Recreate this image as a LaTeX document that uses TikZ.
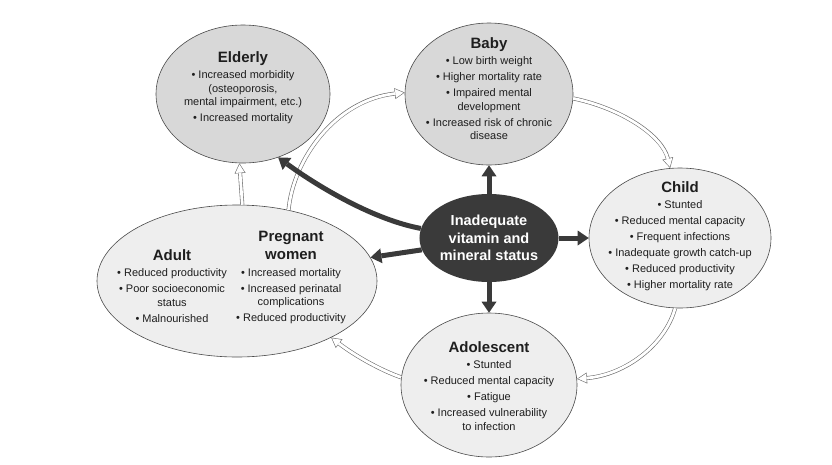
\documentclass[tikz,border=0pt]{standalone}
\usepackage{fontspec}
\setmainfont{Liberation Sans}
\usetikzlibrary{shapes.geometric,arrows.meta}
\definecolor{fillA}{HTML}{D8D8D8}
\definecolor{fillB}{HTML}{EEEEEE}
\definecolor{edgec}{HTML}{4A4A4A}
\definecolor{darkc}{HTML}{3A3A3A}
\definecolor{txtc}{HTML}{1E1E1E}
\definecolor{hollowc}{HTML}{6E6E6E}
\newcommand\bodyfont{\fontsize{11}{13.5}\selectfont}
\newcommand\ttl[1]{{\fontsize{15}{17}\selectfont\bfseries #1}}
\newcommand\hollowpath[1]{\draw[hout] #1; \draw[hin] #1;}
\begin{document}
\begin{tikzpicture}[x=1pt,y=-1pt,
 ell/.style={ellipse, draw=edgec, line width=0.6pt, inner sep=0pt},
 lbl/.style={font=\bodyfont, text=txtc, align=center, inner sep=0pt, anchor=north},
 darrow/.style={draw=darkc, line width=5pt, -{Triangle[length=11pt,width=15pt,line width=0pt]}},
 hout/.style={draw=hollowc, line width=4pt, -{Triangle[length=10pt,width=11pt,line width=0pt]}},
 hin/.style={draw=white, line width=2.8pt, -{Triangle[length=8.15pt,width=9pt,line width=0pt]}, shorten >=1.25pt}]
\useasboundingbox (0,0) rectangle (832,464);
% ellipses
\node[ell, fill=fillA, minimum width=174pt, minimum height=138pt] (eld) at (243,94) {};
\node[ell, fill=fillA, minimum width=168pt, minimum height=142pt] (baby) at (489,94) {};
\node[ell, fill=fillB, minimum width=182pt, minimum height=140pt] (child) at (680,238) {};
\node[ell, fill=fillB, minimum width=176pt, minimum height=144pt] (ado) at (489,385) {};
\node[ell, fill=fillB, minimum width=280pt, minimum height=152pt] (adult) at (237,281) {};
\node[ell, draw=none, fill=darkc, minimum width=136pt, minimum height=88pt, text=white,
      font=\fontsize{14.5}{17.5}\selectfont\bfseries, align=center] (c) at (489,238)
      {Inadequate\\vitamin and\\mineral status};
% texts
\node[lbl] (teld) at (243,51) {\ttl{Elderly}\\[3pt]
 • Increased morbidity\\ (osteoporosis,\\ mental impairment, etc.)\\[2.5pt]
 • Increased mortality};
\node[lbl] (tbaby) at (489,37) {\ttl{Baby}\\[3pt]
 • Low birth weight\\[2.5pt]
 • Higher mortality rate\\[2.5pt]
 • Impaired mental\\ development\\[2.5pt]
 • Increased risk of chronic\\ disease};
\node[lbl] (tchild) at (680,181) {\ttl{Child}\\[3pt]
 • Stunted\\[2.5pt]
 • Reduced mental capacity\\[2.5pt]
 • Frequent infections\\[2.5pt]
 • Inadequate growth catch-up\\[2.5pt]
 • Reduced productivity\\[2.5pt]
 • Higher mortality rate};
\node[lbl] (tado) at (489,341) {\ttl{Adolescent}\\[3pt]
 • Stunted\\[2.5pt]
 • Reduced mental capacity\\[2.5pt]
 • Fatigue\\[2.5pt]
 • Increased vulnerability\\ to infection};
\node[lbl] (tadult) at (172,249) {\ttl{Adult}\\[3pt]
 • Reduced productivity\\[2.5pt]
 • Poor socioeconomic\\ status\\[2.5pt]
 • Malnourished};
\node[lbl] (tpreg) at (291,231) {\ttl{Pregnant}\\[4.5pt]\ttl{women}\\[3pt]
 • Increased mortality\\[2.5pt]
 • Increased perinatal\\ complications\\[2.5pt]
 • Reduced productivity};
% hollow arrows (life cycle)
\hollowpath{(adult.54) .. controls (293,160) and (335,100) .. (baby.179)}
\hollowpath{(adult.86) -- (eld.-93)}
\hollowpath{(baby.-3) .. controls (620,108) and (662,135) .. (child.98)}
\hollowpath{(child.-94) .. controls (665,345) and (625,375) .. (ado.4)}
\hollowpath{(ado.175) .. controls (385,372) and (358,358) .. (adult.-31)}
% dark arrows
\draw[darrow] (c.north) -- (baby.south);
\draw[darrow] (c.south) -- (ado.north);
\draw[darrow] (c.east) -- (child.west);
\draw[darrow] (c.190) -- (adult.10);
\draw[darrow] (c.172) .. controls (375,220) and (320,188) .. (eld.-61);
\end{tikzpicture}
\end{document}
